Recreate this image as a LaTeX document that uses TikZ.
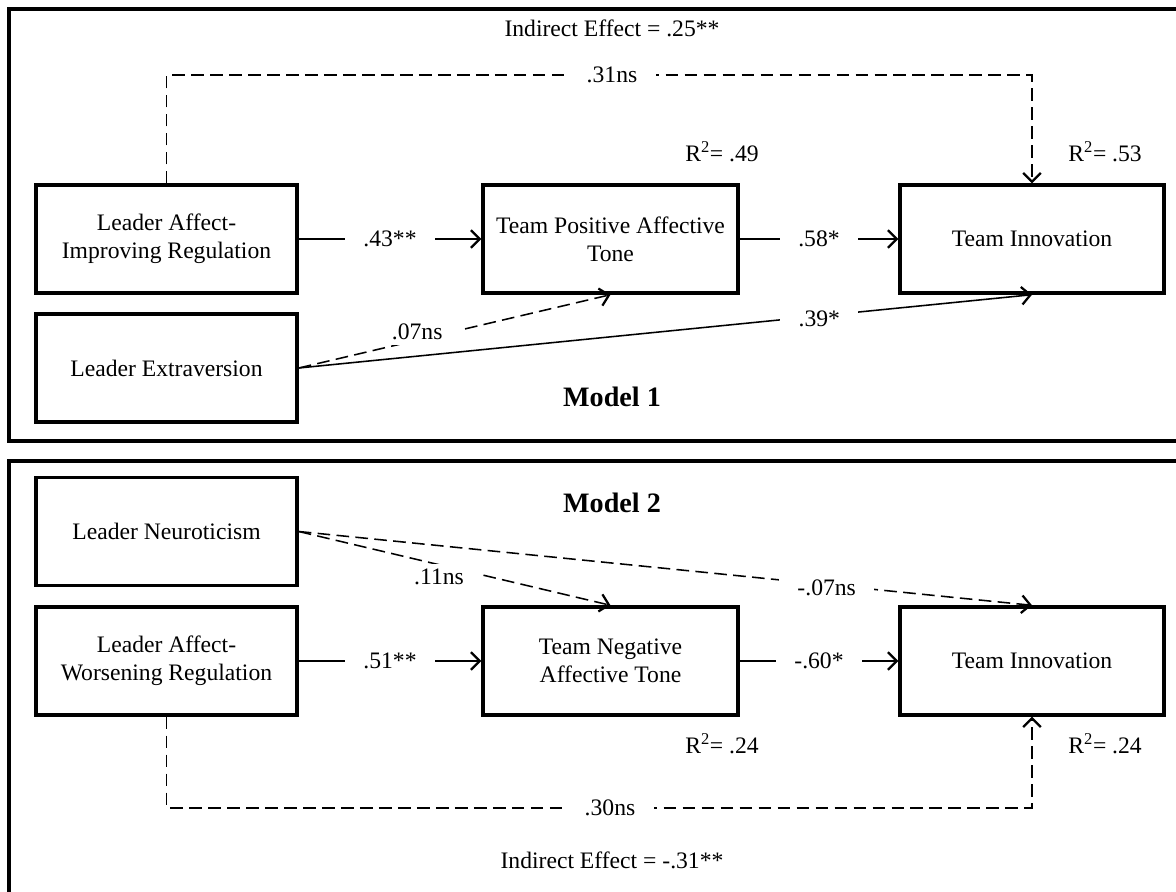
\documentclass[tikz,border=0pt]{standalone}
\usepackage{fontspec}
\setmainfont{Liberation Serif}
\usetikzlibrary{arrows.meta}

\begin{document}
\begin{tikzpicture}[x=0.025cm,y=-0.025cm,
    font=\fontsize{16.8}{19.8}\selectfont,
    box/.style={draw,line width=2.4pt,align=center,minimum height=2.7cm,inner sep=0pt},
    lbl/.style={fill=white,inner xsep=13pt,inner ysep=4pt},
    arr/.style={line width=1.1pt,-{Straight Barb[length=2.2mm,width=4.4mm,line width=1.6pt]}},
    dsh/.style={arr,dash pattern=on 9pt off 4.5pt}]
  \useasboundingbox (0,0) rectangle (1176,892);
  % the two panels
  \draw[line width=2.2pt] (9,9) rectangle (1200,441);
  \draw[line width=2.2pt] (9,461) rectangle (1200,910);

  % Model 1
  \node[box,minimum width=6.525cm] (lair) at (166.5,239) {Leader Affect-\\Improving Regulation};
  \node[box,minimum width=6.525cm] (lext) at (166.5,368) {Leader Extraversion};
  \node[box,minimum width=6.375cm] (tpat) at (610.5,239) {Team Positive Affective\\Tone};
  \node[box,minimum width=6.6cm] (ti1) at (1032,239) {Team Innovation};
  \node (ie1) at (612,28) {Indirect Effect = .25**};
  \node (rtp) at (722,152) {R\textsuperscript{2}= .49};
  \node (rti1) at (1105,152) {R\textsuperscript{2}= .53};
  \node[font=\bfseries\fontsize{20}{24}\selectfont] (m1) at (612,397) {Model 1};
  \coordinate (top1) at (612,75);

  \draw[arr] (lair) -- node[lbl] {.43**} (tpat);
  \draw[arr] (tpat) -- node[lbl] {.58*} (ti1);
  \draw[dsh] (lair.north) |- (top1) node[lbl] {.31ns} -| (ti1.north);
  \draw[dsh] (lext.east) -- node[lbl,pos=0.38,yshift=6pt] {.07ns} (tpat.south);
  \draw[arr] (lext.east) -- node[lbl,pos=0.71,yshift=-2pt] {.39*} (ti1.south);

  % Model 2
  \node[box,minimum width=6.525cm] (neur) at (166.5,531.5) {Leader Neuroticism};
  \node[box,minimum width=6.525cm] (lawr) at (166.5,661) {Leader Affect-\\Worsening Regulation};
  \node[box,minimum width=6.375cm] (tnat) at (610.5,661) {Team Negative\\Affective Tone};
  \node[box,minimum width=6.6cm] (ti2) at (1032,661) {Team Innovation};
  \node (ie2) at (612,860) {Indirect Effect = -.31**};
  \node (rtn) at (722,744) {R\textsuperscript{2}= .24};
  \node (rti2) at (1105,744) {R\textsuperscript{2}= .24};
  \node[font=\bfseries\fontsize{20}{24}\selectfont] (m2) at (612,503) {Model 2};
  \coordinate (bot2) at (610,808);

  \draw[arr] (lawr) -- node[lbl] {.51**} (tnat);
  \draw[arr] (tnat) -- node[lbl] {-.60*} (ti2);
  \draw[dsh] (lawr.south) |- (bot2) node[lbl] {.30ns} -| (ti2.south);
  \draw[dsh] (neur.east) -- node[lbl,pos=0.45,yshift=-9pt] {.11ns} (tnat.north);
  \draw[dsh] (neur.east) -- node[lbl,pos=0.72,yshift=-2pt] {-.07ns} (ti2.north);
\end{tikzpicture}
\end{document}
